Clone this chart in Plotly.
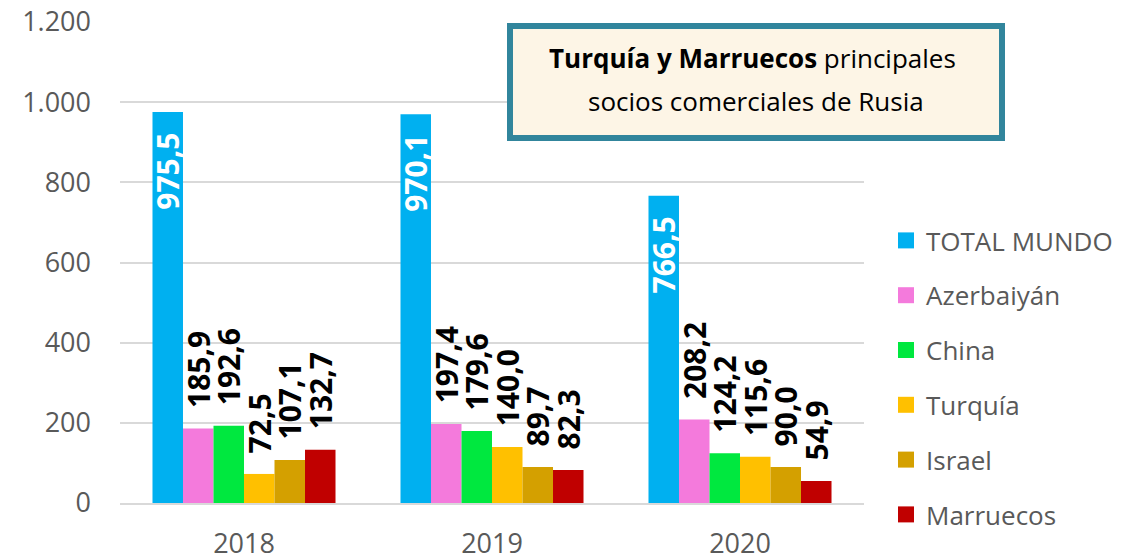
import plotly.graph_objects as go

years = ["2018", "2019", "2020"]
series_names = ["TOTAL MUNDO", "Azerbaiyán", "China", "Turquía", "Israel", "Marruecos"]
total_mundo = [975.5, 970.1, 766.5]
azerbaiyan = [185.9, 197.4, 208.2]
china = [192.6, 179.6, 124.2]
turquia = [72.5, 140.0, 115.6]
israel = [107.1, 89.7, 90.0]
marruecos = [132.7, 82.3, 54.9]
colors = ["#00B0F0", "#F47ADC", "#00E83F", "#FFC000", "#D4A000", "#C00000"]
yticks = [0, 200, 400, 600, 800, 1000, 1200]

values = [total_mundo, azerbaiyan, china, turquia, israel, marruecos]

# The page body has an 8px margin, so the figure's origin sits at page (8, 8).
OFF = 8
W, H = 1132 - OFF, 555 - OFF
L, T = 120 - OFF, 22 - OFF
PW, PH = 744, 481
R, B = W - L - PW, H - T - PH


def px(xpage):
    return (xpage - OFF - L) / PW


def py(ypage):
    return (T + PH - (ypage - OFF)) / PH


pad_out = "<span style='color:rgba(0,0,0,0)'>-.</span>"
pad_in = "<span style='color:rgba(0,0,0,0)'>-.</span>"

fig = go.Figure()
for i, (name, vals, col) in enumerate(zip(series_names, values, colors)):
    if i == 0:
        tt = "<b>%{y:.1f}</b>" + pad_in
        tpos = "inside"
        tfont = dict(family="Open Sans", size=30, color="white")
    else:
        tt = pad_out + "<b>%{y:.1f}</b>"
        tpos = "outside"
        tfont = dict(family="Open Sans", size=30, color="black")
    fig.add_trace(go.Bar(
        x=years, y=vals, name=name, marker=dict(color=col, line=dict(width=0)),
        texttemplate=tt, textposition=tpos, textangle=-90, textfont=tfont,
        insidetextanchor="end", constraintext="none", cliponaxis=False,
        legendgroup=name, showlegend=False, hoverinfo="skip",
    ))

# legend entries with larger square swatches
for name, col in zip(series_names, colors):
    fig.add_trace(go.Scatter(
        x=[None], y=[None], mode="markers", name=name, legendgroup=name,
        marker=dict(symbol="square", size=16, color=col, line=dict(width=0)),
        showlegend=True, hoverinfo="skip",
    ))

fig.update_layout(
    width=W, height=H,
    margin=dict(l=L, r=R, t=T, b=B, autoexpand=False),
    paper_bgcolor="white", plot_bgcolor="white",
    separators=",.",
    barmode="group", bargap=0.262, bargroupgap=0,
    font=dict(family="Open Sans", color="#595959"),
    showlegend=True,
    legend=dict(
        x=px(886), xanchor="left", y=py(217), yanchor="top",
        font=dict(family="Open Sans", size=26, color="#595959"),
        tracegroupgap=18, bgcolor="rgba(0,0,0,0)", itemsizing="trace",
    ),
    xaxis=dict(
        type="category",
        showgrid=False, showline=True, linecolor="#D9D9D9", linewidth=2,
        tickfont=dict(family="Open Sans", size=27, color="#595959"),
        ticks="", ticklabelstandoff=16, automargin=False,
    ),
    yaxis=dict(
        range=[0, 1200], tickvals=yticks, tickformat=",.0f",
        showgrid=True, gridcolor="#D9D9D9", gridwidth=2,
        zeroline=False, showline=False,
        tickfont=dict(family="Open Sans", size=27, color="#595959"),
        ticks="", ticklabelstandoff=28, automargin=False,
        ticklabeloverflow="allow",
    ),
)

# title box
fig.add_shape(
    type="rect", xref="paper", yref="paper",
    x0=px(510), x1=px(1002), y0=py(138), y1=py(26),
    fillcolor="#FDF5E6", line=dict(color="#31859C", width=6), layer="above",
)
fig.add_annotation(
    xref="paper", yref="paper", x=px(752), y=py(58),
    xanchor="center", yanchor="middle",
    text="<b>Turquía y Marruecos</b> principales",
    showarrow=False, font=dict(family="Open Sans", size=26, color="black"),
)
fig.add_annotation(
    xref="paper", yref="paper", x=px(756), y=py(101),
    xanchor="center", yanchor="middle",
    text="socios comerciales de Rusia",
    showarrow=False, font=dict(family="Open Sans", size=26, color="black"),
)

fig.write_html("out.html")
